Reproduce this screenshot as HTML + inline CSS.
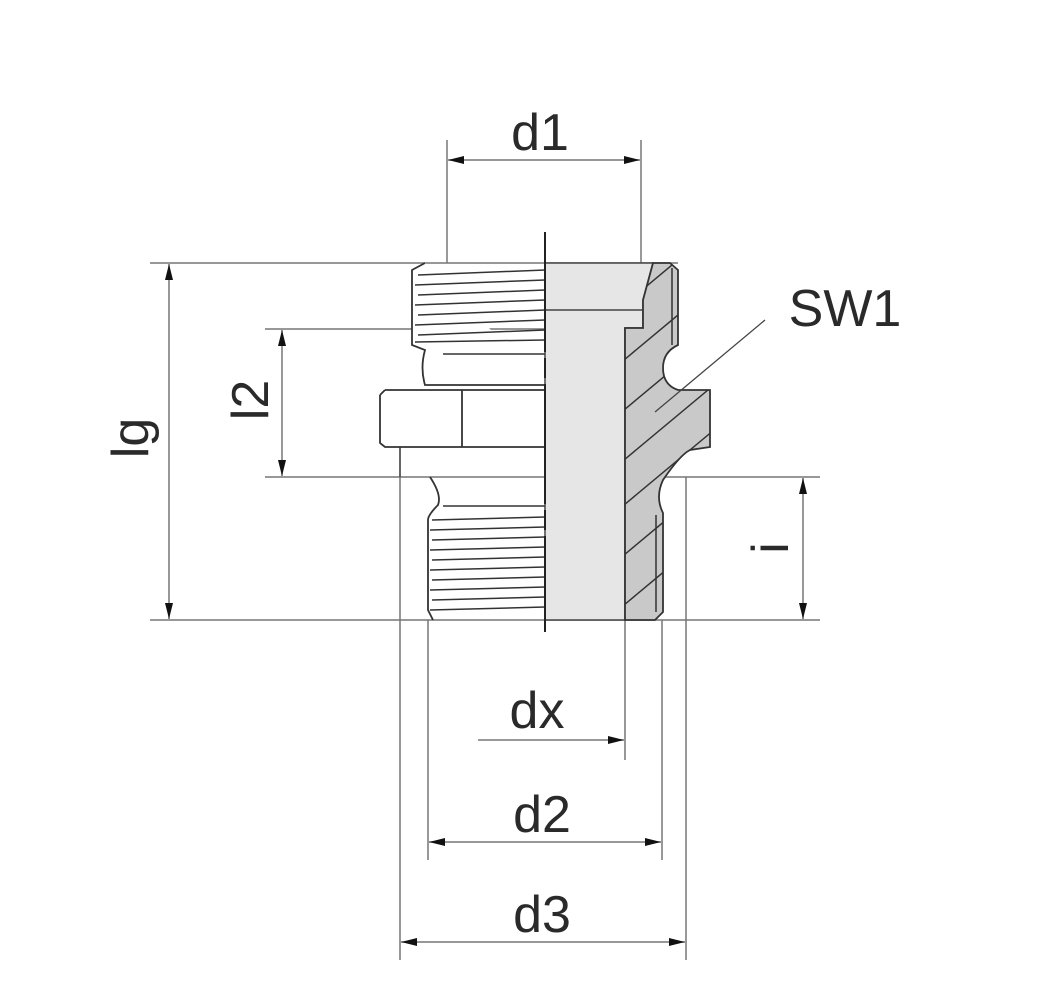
<!DOCTYPE html>
<html><head><style>html,body{margin:0;padding:0;background:#fff}svg{display:block}text{font-family:"Liberation Sans",sans-serif;font-size:52px;fill:#2a2a2a}</style></head>
<body>
<svg width="1061" height="1000" viewBox="0 0 1061 1000">
<defs>
<marker id="a" viewBox="0 0 10 10" refX="10" refY="5" markerWidth="16" markerHeight="16" markerUnits="userSpaceOnUse" orient="auto-start-reverse"><path d="M0,2.5 L10,5 L0,7.5 z" fill="#111"/></marker>
<clipPath id="dk"><path d="M653,263 L670,263 L678,270 L678,345 Q663,352 663,368 Q663,385 678,390 L710,390 L710,447 L690,450 Q680,455 663,480 Q655,497 663,513 L663,612 L655,620 L625,620 L625,328 L643,328 L643,300 Z"/></clipPath>
</defs>
<g stroke="#777" stroke-width="1.5" fill="none">
<line x1="447" y1="140" x2="447" y2="263"/><line x1="641" y1="140" x2="641" y2="263"/>
<line x1="150" y1="263" x2="678" y2="263"/><line x1="150" y1="620" x2="820" y2="620"/>
<line x1="265" y1="329" x2="643" y2="329"/><line x1="265" y1="477" x2="820" y2="477"/>
<line x1="400" y1="477" x2="400" y2="960"/><line x1="686" y1="477" x2="686" y2="960"/>
<line x1="428" y1="620" x2="428" y2="860"/><line x1="662" y1="620" x2="662" y2="860"/>
<line x1="625" y1="620" x2="625" y2="760"/>
</g>
<path d="M545,263 L653,263 L643,300 L643,328 L625,328 L625,620 L545,620 Z" fill="#e6e6e6" stroke="#444" stroke-width="1.5"/>
<line x1="545" y1="310" x2="643" y2="310" stroke="#444" stroke-width="1.5"/>
<path d="M653,263 L670,263 L678,270 L678,345 Q663,352 663,368 Q663,385 678,390 L710,390 L710,447 L690,450 Q680,455 663,480 Q655,497 663,513 L663,612 L655,620 L625,620 L625,328 L643,328 L643,300 Z" fill="#c9c9c9" stroke="#333" stroke-width="1.8"/>
<g clip-path="url(#dk)" stroke="#333" stroke-width="1.5">
<line x1="600" y1="380" x2="720" y2="280"/><line x1="600" y1="430" x2="720" y2="330"/><line x1="600" y1="480" x2="720" y2="380"/><line x1="600" y1="525" x2="720" y2="425"/><line x1="600" y1="575" x2="720" y2="475"/><line x1="600" y1="625" x2="720" y2="525"/><line x1="600" y1="675" x2="720" y2="575"/><line x1="600" y1="325" x2="720" y2="225"/>
<line x1="672" y1="268" x2="672" y2="345"/><line x1="656" y1="515" x2="656" y2="612"/>
</g>
<g stroke="#333" stroke-width="1.8" fill="#fff">
<path d="M425,263 L412,270 L412,345 L425,350 Q420,368 425,385 L545,385"/>
<path d="M385,390 L545,390 M380,395 L380,443 L385,447 L545,447 M385,390 L380,395"/>
<line x1="462" y1="390" x2="462" y2="447"/>
<path d="M430,477 Q442,495 438,505 Q428,515 428,520 L428,610 L433,620" fill="none"/>
</g>
<g stroke="#333" stroke-width="1.5">
<line x1="418" y1="275" x2="545" y2="270"/><line x1="415" y1="285" x2="545" y2="280"/><line x1="418" y1="295" x2="545" y2="290"/><line x1="415" y1="305" x2="545" y2="300"/><line x1="418" y1="315" x2="545" y2="310"/><line x1="415" y1="325" x2="545" y2="320"/><line x1="418" y1="335" x2="545" y2="330"/><line x1="415" y1="342" x2="545" y2="340"/>
<line x1="443" y1="354" x2="545" y2="354"/><line x1="443" y1="506" x2="545" y2="506"/>
<line x1="432" y1="520" x2="545" y2="517"/><line x1="430" y1="530" x2="545" y2="527"/><line x1="432" y1="540" x2="545" y2="537"/><line x1="430" y1="550" x2="545" y2="547"/><line x1="432" y1="560" x2="545" y2="557"/><line x1="430" y1="570" x2="545" y2="567"/><line x1="432" y1="580" x2="545" y2="577"/><line x1="430" y1="590" x2="545" y2="587"/><line x1="432" y1="600" x2="545" y2="597"/><line x1="430" y1="610" x2="545" y2="607"/>
</g>
<line x1="400" y1="447" x2="400" y2="477" stroke="#333" stroke-width="1.5"/>
<line x1="545" y1="232" x2="545" y2="632" stroke="#222" stroke-width="2" stroke-dasharray="120,6,20,6"/>
<g stroke="#777" stroke-width="1.5" marker-start="url(#a)" marker-end="url(#a)">
<line x1="448" y1="160" x2="640" y2="160"/>
<line x1="169" y1="264" x2="169" y2="619"/>
<line x1="282" y1="330" x2="282" y2="476"/>
<line x1="803" y1="478" x2="803" y2="619"/>
<line x1="429" y1="842" x2="661" y2="842"/>
<line x1="401" y1="942" x2="685" y2="942"/>
</g>
<line x1="478" y1="740" x2="624" y2="740" stroke="#777" stroke-width="1.5" marker-end="url(#a)"/>
<line x1="765" y1="320" x2="655" y2="412" stroke="#444" stroke-width="1.3"/>
<text x="540" y="150" text-anchor="middle">d1</text>
<text x="845" y="326" text-anchor="middle">SW1</text>
<text x="537" y="728" text-anchor="middle">dx</text>
<text x="542" y="832" text-anchor="middle">d2</text>
<text x="542" y="932" text-anchor="middle">d3</text>
<text transform="translate(148,438) rotate(-90)" text-anchor="middle">lg</text>
<text transform="translate(268,400) rotate(-90)" text-anchor="middle">l2</text>
<text transform="translate(788,548) rotate(-90)" text-anchor="middle">i</text>
</svg>
</body></html>
